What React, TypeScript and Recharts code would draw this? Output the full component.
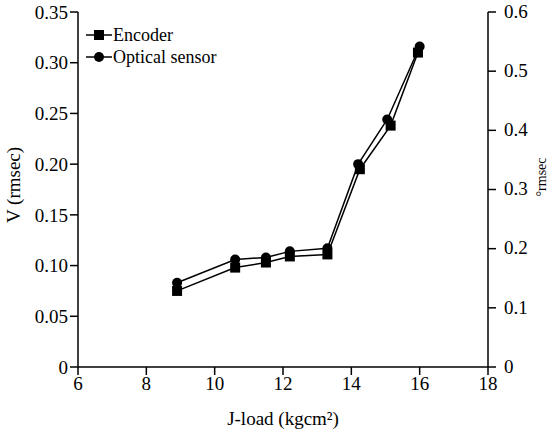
import { LineChart, Line, XAxis, YAxis, Legend } from "recharts";

const loadTicks = [6, 8, 10, 12, 14, 16, 18];
const vTicks = [0, 0.05, 0.1, 0.15, 0.2, 0.25, 0.3, 0.35];
const degTicks = [0, 0.1, 0.2, 0.3, 0.4, 0.5, 0.6];

const encoderLoad = [8.9, 10.6, 11.5, 12.2, 13.3, 14.25, 15.15, 15.95];
const encoderV = [0.075, 0.098, 0.103, 0.109, 0.111, 0.195, 0.238, 0.31];

const opticalLoad = [8.9, 10.6, 11.5, 12.2, 13.3, 14.2, 15.05, 16.0];
const opticalV = [0.083, 0.106, 0.108, 0.114, 0.117, 0.2, 0.244, 0.316];

const encoderData = encoderLoad.map((x, i) => ({ x, v: encoderV[i] }));
const opticalData = opticalLoad.map((x, i) => ({ x, v: opticalV[i] }));

const font = "'Liberation Serif', 'Times New Roman', serif";
const tickStyle = { fill: "#000", fontSize: 19, fontFamily: font };

const Square = (props: any) => {
  const { cx, cy, index } = props;
  if (cx == null || cy == null) return <g key={"s" + index} />;
  return <rect key={"s" + index} x={cx - 5} y={cy - 5} width={10} height={10} fill="#000" />;
};

const Dot = (props: any) => {
  const { cx, cy, index } = props;
  if (cx == null || cy == null) return <g key={"c" + index} />;
  return <circle key={"c" + index} cx={cx} cy={cy} r={5} fill="#000" />;
};

const legendItems = [
  { name: "Encoder", shape: "square" },
  { name: "Optical sensor", shape: "circle" },
];

const LegendBox = () => (
  <div style={{ fontFamily: font, fontSize: 18, color: "#000", lineHeight: "22px" }}>
    {legendItems.map((item) => (
      <div key={item.name} style={{ display: "flex", alignItems: "center" }}>
        <svg width={26} height={12} style={{ marginRight: 1 }}>
          <line x1={0} y1={6} x2={26} y2={6} stroke="#000" strokeWidth={1.5} />
          {item.shape === "square" ? (
            <rect x={8} y={1} width={10} height={10} fill="#000" />
          ) : (
            <circle cx={13} cy={6} r={5} fill="#000" />
          )}
        </svg>
        <span>{item.name}</span>
      </div>
    ))}
  </div>
);

const fmtV = (v: number) => (v === 0 ? "0" : v.toFixed(2));
const fmtDeg = (v: number) => (v === 0 ? "0" : v.toFixed(1));

const titleStyle = { fontFamily: font, fontSize: 19, fill: "#000" };

export default function App() {
  return (
    <div style={{ position: "absolute", left: 0, top: 0, background: "#fff" }}>
      <LineChart width={555} height={437} margin={{ top: 12, right: 0, bottom: 0, left: 0 }}>
        <XAxis
          type="number"
          dataKey="x"
          domain={[6, 18]}
          ticks={loadTicks}
          allowDuplicatedCategory={false}
          height={70}
          tickSize={8}
          tickMargin={2}
          tick={tickStyle}
          axisLine={{ stroke: "#000", strokeWidth: 1.5 }}
          tickLine={{ stroke: "#000", strokeWidth: 1.5 }}
          label={{
            content: ({ viewBox }: any) => (
              <text
                x={viewBox.x + viewBox.width / 2}
                y={421}
                textAnchor="middle"
                dominantBaseline="middle"
                style={titleStyle}
              >
                J-load (kgcm²)
              </text>
            ),
          }}
        />
        <YAxis
          yAxisId="left"
          type="number"
          domain={[0, 0.35]}
          ticks={vTicks}
          width={78}
          tickSize={8}
          tickMargin={2}
          tick={tickStyle}
          tickFormatter={fmtV}
          axisLine={{ stroke: "#000", strokeWidth: 1.5 }}
          tickLine={{ stroke: "#000", strokeWidth: 1.5 }}
          label={{
            content: () => (
              <text
                x={16}
                y={185}
                transform="rotate(-90 16 185)"
                textAnchor="middle"
                dominantBaseline="middle"
                style={titleStyle}
              >
                V (rmsec)
              </text>
            ),
          }}
        />
        <YAxis
          yAxisId="right"
          orientation="right"
          type="number"
          domain={[0, 0.6]}
          allowDataOverflow
          ticks={degTicks}
          width={67}
          tickSize={8}
          tickMargin={8}
          tick={{ ...tickStyle, dy: -1 }}
          tickFormatter={fmtDeg}
          axisLine={{ stroke: "#000", strokeWidth: 1.5 }}
          tickLine={{ stroke: "#000", strokeWidth: 1.5 }}
          label={{
            content: () => (
              <text
                x={543}
                y={177}
                transform="rotate(-90 543 177)"
                textAnchor="middle"
                dominantBaseline="middle"
                style={{ ...titleStyle, fontSize: 14 }}
              >
                °rmsec
              </text>
            ),
          }}
        />
        <Legend
          layout="horizontal"
          verticalAlign="middle"
          align="center"
          content={() => <LegendBox />}
          wrapperStyle={{ left: 86, top: 24, width: "auto" }}
        />
        <Line
          yAxisId="left"
          data={encoderData}
          dataKey="v"
          name="Encoder"
          stroke="#000"
          strokeWidth={1.5}
          dot={Square}
          activeDot={false}
          isAnimationActive={false}
        />
        <Line
          yAxisId="left"
          data={opticalData}
          dataKey="v"
          name="Optical sensor"
          stroke="#000"
          strokeWidth={1.5}
          dot={Dot}
          activeDot={false}
          isAnimationActive={false}
        />
      </LineChart>
    </div>
  );
}
